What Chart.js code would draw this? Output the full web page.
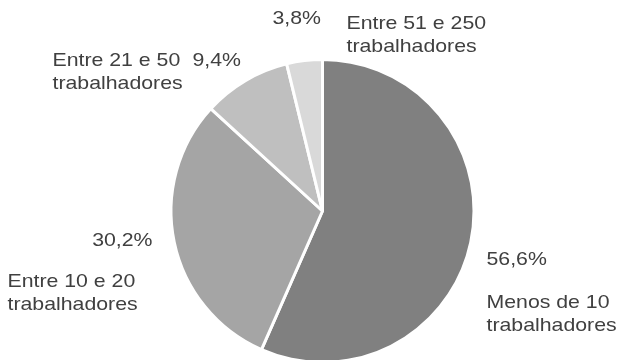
<!DOCTYPE html>
<html>
<head>
<meta charset="utf-8">
<script src="https://cdn.jsdelivr.net/npm/chart.js@4.4.1/dist/chart.umd.min.js"></script>
<style>
    html, body { margin: 0; padding: 0; background: #ffffff; }
    #wrap { width: 617px; height: 360px; overflow: hidden; position: relative; }
    #pieChart { display: block; }
</style>
</head>
<body>
<div id="wrap">
    <canvas id="pieChart" width="617" height="370"></canvas>
</div>
<script>
// Empresas por dimensão (número de trabalhadores)
const categories = [
    ["Menos de 10", "trabalhadores"],
    ["Entre 10 e 20", "trabalhadores"],
    ["Entre 21 e 50", "trabalhadores"],
    ["Entre 51 e 250", "trabalhadores"],
];
const shares = [56.6, 30.2, 9.4, 3.8];
const sliceColors = ["#808080", "#a5a5a5", "#bfbfbf", "#d9d9d9"];

// label placement, relative to the pie centre
const labelLayout = [
    { pct: [164, 49, "left"], cat: [164, 92] },
    { pct: [-170, 30, "right"], cat: [-315, 71] },
    { pct: [-130, -150, "left"], cat: [-270, -150] },
    { pct: [-50, -192, "left"], cat: [24, -187] },
];

const FONT = "19px 'Liberation Sans', Arial, sans-serif";
const LINE_H = 23;
const STRETCH = 1.12; // text is drawn a little wider than the plain font

function fmtPct(v) {
    return v.toFixed(1).replace(".", ",") + "%";
}

function drawText(ctx, text, x, y) {
    ctx.save();
    ctx.translate(x, y);
    ctx.scale(STRETCH, 1);
    ctx.fillText(text, 0, 0);
    ctx.restore();
}

const pieLabels = {
    id: "pieLabels",
    afterDatasetsDraw(chart) {
        const ctx = chart.ctx;
        const arcs = chart.getDatasetMeta(0).data;
        ctx.save();
        ctx.font = FONT;
        ctx.fillStyle = "#404040";
        ctx.textBaseline = "middle";
        arcs.forEach((arc, i) => {
            const cx = arc.x;
            const cy = arc.y;
            const lay = labelLayout[i];
            ctx.textAlign = lay.pct[2];
            drawText(ctx, fmtPct(shares[i]), cx + lay.pct[0], cy + lay.pct[1]);
            ctx.textAlign = "left";
            categories[i].forEach((line, k) => {
                drawText(ctx, line, cx + lay.cat[0], cy + lay.cat[1] + k * LINE_H);
            });
        });
        ctx.restore();
    },
};

new Chart(document.getElementById("pieChart"), {
    type: "pie",
    data: {
        labels: categories.map((c) => c.join(" ")),
        datasets: [
            {
                data: shares,
                backgroundColor: sliceColors,
                borderColor: "#ffffff",
                borderWidth: 3,
            },
        ],
    },
    options: {
        responsive: false,
        animation: false,
        layout: {
            padding: { left: 169, right: 141, top: 58, bottom: 6 },
        },
        plugins: {
            legend: { display: false },
            tooltip: { enabled: false },
        },
    },
    plugins: [pieLabels],
});
</script>
</body>
</html>
